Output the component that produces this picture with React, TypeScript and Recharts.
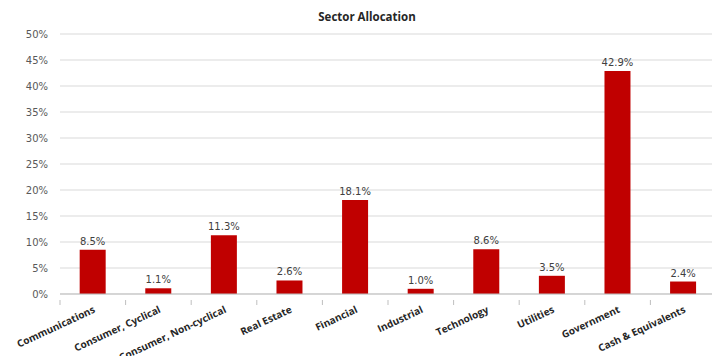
import React from "react";
import { BarChart, Bar, XAxis, YAxis, CartesianGrid, LabelList } from "recharts";

const categories = [
  "Communications",
  "Consumer, Cyclical",
  "Consumer, Non-cyclical",
  "Real Estate",
  "Financial",
  "Industrial",
  "Technology",
  "Utilities",
  "Government",
  "Cash & Equivalents",
];
const allocation = [8.5, 1.1, 11.3, 2.6, 18.1, 1.0, 8.6, 3.5, 42.9, 2.4];
const yTicks = [0, 5, 10, 15, 20, 25, 30, 35, 40, 45, 50];

const data = categories.map((name, i) => ({ name, value: allocation[i] }));

const CHART_W = 720;
const CHART_H = 356;
const MARGIN = { top: 34, right: 4, bottom: 0, left: 0 };
const Y_W = 60;
const PLOT_W = CHART_W - MARGIN.left - MARGIN.right - Y_W;
const BAND = PLOT_W / categories.length;

const XTick = (props: any) => {
  const { x, y, payload, index } = props;
  const left = x - BAND / 2;
  const right = x + BAND / 2;
  return (
    <g>
      <line x1={left} y1={y - 2} x2={left} y2={y + 3} stroke="#bfbfbf" />
      {index === categories.length - 1 && (
        <line x1={right} y1={y - 2} x2={right} y2={y + 3} stroke="#bfbfbf" />
      )}
      <text
        x={x + 3}
        y={y + 10}
        textAnchor="end"
        transform={`rotate(-25, ${x + 3}, ${y + 10})`}
        fontFamily="'Open Sans', sans-serif"
        fontWeight="bold"
        fontSize={10}
        fill="#262626"
      >
        {payload.value}
      </text>
    </g>
  );
};

export default function App() {
  return (
    <div
      style={{
        position: "absolute",
        left: 0,
        top: 0,
        width: 712,
        height: 356,
        overflow: "hidden",
        background: "#fff",
      }}
    >
      <div
        style={{
          position: "absolute",
          left: 0,
          width: 734,
          top: 9,
          textAlign: "center",
          fontFamily: "'Open Sans', sans-serif",
          fontWeight: "bold",
          fontSize: 11.5,
          color: "#262626",
        }}
      >
        Sector Allocation
      </div>
      <BarChart
        width={CHART_W}
        height={CHART_H}
        data={data}
        margin={MARGIN}
        barCategoryGap="30%"
      >
        <CartesianGrid vertical={false} stroke="#d9d9d9" />
        <XAxis
          dataKey="name"
          interval={0}
          height={62}
          axisLine={{ stroke: "#bfbfbf" }}
          tickLine={false}
          tick={<XTick />}
        />
        <YAxis
          width={Y_W}
          domain={[0, 50]}
          ticks={yTicks}
          interval={0}
          axisLine={false}
          tickLine={false}
          tickSize={0}
          tickMargin={12}
          tickFormatter={(v: number) => `${v}%`}
          tick={{ fontFamily: "'DejaVu Sans', sans-serif", fontSize: 10, fill: "#595959" }}
        />
        <Bar dataKey="value" fill="#C00000" isAnimationActive={false}>
          <LabelList
            dataKey="value"
            position="top"
            offset={5}
            formatter={(v: any) => `${Number(v).toFixed(1)}%`}
            style={{ fontFamily: "'DejaVu Sans', sans-serif", fontSize: 10, fill: "#404040" }}
          />
        </Bar>
      </BarChart>
    </div>
  );
}
